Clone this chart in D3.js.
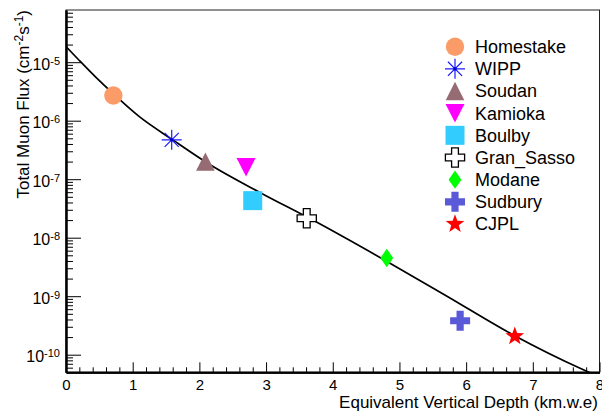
<!DOCTYPE html>
<html><head><meta charset="utf-8">
<script src="https://cdn.jsdelivr.net/npm/d3@7"></script>
<style>
html,body{margin:0;padding:0;background:#fff;}
svg{display:block;font-family:"Liberation Sans",Arial,Helvetica,sans-serif;}
</style></head>
<body>
<svg id="c" width="602" height="415"></svg>
<script>
// ---- data ----
const sites   = ["Homestake","WIPP","Soudan","Kamioka","Boulby","Gran_Sasso","Modane","Sudbury","CJPL"];
const depths  = [0.71, 1.585, 2.09, 2.70, 2.80, 3.61, 4.81, 5.91, 6.73];
const fluxes  = [2.7e-6, 4.7e-7, 2.0e-7, 1.6e-7, 4.3e-8, 2.15e-8, 4.5e-9, 3.8e-10, 2.07e-10];
const markerKinds = ["circle","asterisk","triUp","triDown","square","openCross","diamond","cross","star"];
const markerColors = ["#fb9b68","#1a1aff","#966b74","#ff00ff","#33ccff","#000000","#00ff00","#5a5ad8","#ff0000"];
// fitted curve
const curveDepth = [0, 0.2, 0.45, 0.7, 1.1, 1.6, 2.1, 2.9, 3.7, 4.8, 5.7, 6.7, 7.75, 8.0];
const curveFlux  = [1.85e-5, 1.07e-5, 5.5e-6, 2.95e-6, 1.17e-6, 4.7e-7, 1.95e-7, 6.0e-8, 2.0e-8, 4.0e-9, 1.02e-9, 2.2e-10, 5.6e-11, 4.2e-11];
const xTicks = [0,1,2,3,4,5,6,7,8];
const yDecades = [-10,-9,-8,-7,-6,-5];
const xTitle = "Equivalent Vertical Depth (km.w.e)";

// ---- layout ----
const L = 66, R = 599.5, T = 10, B = 372.3;
const svg = d3.select("#c");
const x = d3.scaleLinear().domain([0,8]).range([L,R]);
const y = d3.scaleLog().domain([5e-11, 7.8e-5]).range([B,T]);

// clip
svg.append("defs").append("clipPath").attr("id","clip")
  .append("rect").attr("x",L).attr("y",T).attr("width",R-L).attr("height",B-T);

// frame
svg.append("rect").attr("x",L).attr("y",T).attr("width",R-L).attr("height",B-T)
  .attr("fill","none").attr("stroke","#222").attr("stroke-width",1);

// x axis
const xMinor = d3.range(0,8.001,0.2).filter(v=>Math.abs(v-Math.round(v))>1e-6);
const gx = svg.append("g").attr("transform",`translate(0,${B})`);
gx.call(d3.axisBottom(x).tickValues(xMinor).tickSizeInner(-5).tickSizeOuter(0).tickFormat(""));
const gx2 = svg.append("g").attr("transform",`translate(0,${B})`);
gx2.call(d3.axisBottom(x).tickValues(xTicks).tickSizeInner(-10).tickSizeOuter(0).tickFormat(d3.format("d")));
gx2.selectAll(".tick text").attr("font-size",15).attr("fill","#000")
  .attr("font-family","Liberation Sans, Arial, sans-serif").attr("y",17.5).attr("dy",null);
gx.select(".domain").attr("stroke","#000").attr("stroke-width",2);
gx2.select(".domain").attr("stroke","#000").attr("stroke-width",2);

// y axis
const yMinor = [];
for (let e=-11;e<=-5;e++) for (let m=2;m<=9;m++){ const v=m*Math.pow(10,e); if(v>=5e-11 && v<=7.8e-5) yMinor.push(v); }
const gy = svg.append("g").attr("transform",`translate(${L},0)`);
gy.call(d3.axisLeft(y).tickValues(yMinor).tickSizeInner(-7).tickSizeOuter(0).tickFormat(""));
const gy2 = svg.append("g").attr("transform",`translate(${L},0)`);
gy2.call(d3.axisLeft(y).tickValues(yDecades.map(e=>Math.pow(10,e))).tickSizeInner(-15).tickSizeOuter(0).tickFormat(""));
gy.select(".domain").attr("stroke","#000").attr("stroke-width",2);
gy2.select(".domain").attr("stroke","#000").attr("stroke-width",2);
svg.selectAll(".tick line").attr("stroke","#000");

// y tick labels with superscripts
yDecades.forEach(e=>{
  const t = svg.append("text").attr("x",60).attr("y",y(Math.pow(10,e))+7.5)
    .attr("text-anchor","end").attr("fill","#000");
  t.append("tspan").attr("font-size",16).text("10");
  t.append("tspan").attr("font-size",11).attr("dy",-5).text(String(e));
});

// axis titles
svg.append("text").attr("x",598).attr("y",407.5).attr("text-anchor","end")
  .attr("font-size",17).attr("fill","#000").text(xTitle);
const yt = svg.append("text").attr("transform","translate(29,10) rotate(-90)")
  .attr("text-anchor","end").attr("font-size",17).attr("fill","#000");
yt.append("tspan").text("Total Muon Flux (cm");
yt.append("tspan").attr("font-size",12).attr("dy",-6).text("-2");
yt.append("tspan").attr("dy",6).text("s");
yt.append("tspan").attr("font-size",12).attr("dy",-6).text("-1");
yt.append("tspan").attr("dy",6).text(")");

// curve
const line = d3.line().x((d,i)=>x(curveDepth[i])).y((d,i)=>y(curveFlux[i])).curve(d3.curveMonotoneX);
svg.append("path").attr("clip-path","url(#clip)").attr("d",line(curveDepth))
  .attr("fill","none").attr("stroke","#000").attr("stroke-width",1.7);

// markers
function crossPath(a,w){return `M${-w},${-a}L${w},${-a}L${w},${-w}L${a},${-w}L${a},${w}L${w},${w}L${w},${a}L${-w},${a}L${-w},${w}L${-a},${w}L${-a},${-w}L${-w},${-w}Z`;}
function starPath(ro,ri){let p="";for(let k=0;k<10;k++){const r=k%2?ri:ro;const ang=-Math.PI/2+k*Math.PI/5;p+=(k?"L":"M")+(r*Math.cos(ang)).toFixed(2)+","+(r*Math.sin(ang)).toFixed(2);}return p+"Z";}
function drawMarker(g,kind,color){
  switch(kind){
    case "circle": g.append("circle").attr("r",9.2).attr("fill",color); break;
    case "asterisk": {
      const r=10, d=7.07;
      g.append("path").attr("d",`M0,${-r}L0,${r}M${-r},0L${r},0M${-d},${-d}L${d},${d}M${-d},${d}L${d},${-d}`)
        .attr("stroke",color).attr("stroke-width",1.2).attr("fill","none");
      g.append("circle").attr("r",1.6).attr("fill","#0000cc");
      break; }
    case "triUp": g.append("path").attr("d","M0,-9.2L9.3,9.2L-9.3,9.2Z").attr("fill",color); break;
    case "triDown": g.append("path").attr("d","M-9.5,-9.2L9.5,-9.2L0,9.2Z").attr("fill",color); break;
    case "square": g.append("rect").attr("x",-9.5).attr("y",-9.5).attr("width",19).attr("height",19).attr("fill",color); break;
    case "openCross": g.append("path").attr("d",crossPath(9.6,3.4)).attr("fill","#fff").attr("stroke",color).attr("stroke-width",1.3); break;
    case "cross": g.append("path").attr("d",crossPath(10,3.6)).attr("fill",color); break;
    case "diamond": g.append("path").attr("d","M0,-9.2L6.4,0L0,9.2L-6.4,0Z").attr("fill",color); break;
    case "star": g.append("path").attr("d",starPath(9.8,4)).attr("fill",color); break;
  }
}
sites.forEach((s,i)=>{
  const g = svg.append("g").attr("transform",`translate(${x(depths[i])},${y(fluxes[i])})`);
  drawMarker(g, markerKinds[i], markerColors[i]);
});

// legend
const legX = 455, legY0 = 46.7, legDy = 22.16;
sites.forEach((s,i)=>{
  const cy = legY0 + i*legDy;
  const g = svg.append("g").attr("transform",`translate(${legX},${cy})`);
  drawMarker(g, markerKinds[i], markerColors[i]);
  svg.append("text").attr("x",475).attr("y",cy+6.4).attr("font-size",18).attr("fill","#000").text(s);
});
</script>
</body></html>
